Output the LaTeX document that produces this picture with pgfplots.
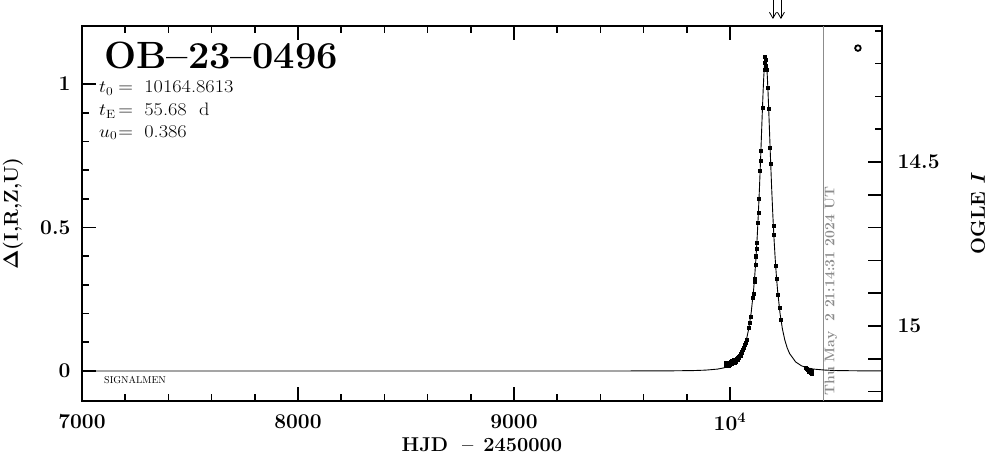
\documentclass[border=0pt]{standalone}
\usepackage{graphicx}
\usepackage{pgfplots}
\pgfplotsset{compat=1.18}
\usetikzlibrary{arrows.meta}
\definecolor{stampgray}{RGB}{140,140,140}
\begin{document}
\begin{tikzpicture}
\begin{axis}[name=ax, width=800pt, height=375pt, scale only axis,
  xmin=7000, xmax=10704, ymin=-0.1045, ymax=1.202,
  axis line style={line width=1.7pt},
  xtick={7000,8000,9000,10000}, xticklabels={7000,8000,9000,10\textsuperscript{4}},
  minor x tick num=4,
  ytick={0,0.5,1}, yticklabels={0,0.5,1}, minor y tick num=4,
  ytick pos=left,
  tick align=inside,
  major tick length=14pt, minor tick length=7pt,
  every tick/.style={line width=1.7pt, black},
  tick label style={font=\bfseries\fontsize{21}{25}\selectfont},
  xticklabel style={anchor=center, yshift=-21pt},
  yticklabel style={anchor=east, xshift=-8pt},
  clip=false]
\draw[color=stampgray, line width=0.9pt] (axis cs:10430.6,-0.1045) -- (axis cs:10430.6,1.202);
\addplot[black, line width=0.9pt] coordinates {
(7000,0) (9500,0.0001) (9719.42,0.0005) (9830.78,0.0015) (9886.46,0.0030) (9942.14,0.0066)
(9969.98,0.0106) (9997.82,0.0178) (10025.66,0.0317) (10053.50,0.0607) (10064.64,0.0805)
(10075.77,0.1080) (10086.91,0.1468) (10098.05,0.2019) (10109.18,0.2804) (10114.75,0.3313)
(10120.32,0.3920) (10125.88,0.4637) (10131.45,0.5476) (10137.02,0.6447) (10142.59,0.7532)
(10148.16,0.8681) (10150.94,0.9245) (10153.72,0.9774) (10156.51,1.0237) (10159.29,1.0601)
(10162.08,1.0836) (10164.86,1.0917) (10167.64,1.0836) (10170.43,1.0601) (10173.21,1.0237)
(10176.00,0.9774) (10178.78,0.9245) (10181.56,0.8681) (10187.13,0.7532) (10192.70,0.6447)
(10198.27,0.5476) (10203.84,0.4637) (10209.40,0.3920) (10214.97,0.3313) (10220.54,0.2804)
(10231.68,0.2019) (10242.81,0.1468) (10253.95,0.1080) (10265.08,0.0805) (10276.22,0.0607)
(10304.06,0.0317) (10331.90,0.0178) (10359.74,0.0106) (10387.58,0.0066) (10443.26,0.0030)
(10498.94,0.0015) (10610.30,0.0005) (10704,0.0002)
};
\addplot[only marks, mark=square*, mark size=1.5pt, black] coordinates {
(9978,0.020) (9982,0.028) (9985,0.018) (9988,0.025) (9990,0.030) (9993,0.020) (9995,0.027)
(9998,0.022) (10000,0.030) (10003,0.025) (10005,0.032) (10008,0.027) (10010,0.035) (10012,0.029)
(10015,0.033) (10018,0.038) (10020,0.030) (10022,0.036) (10025,0.040) (10027,0.034) (10030,0.042)
(10032,0.038) (10035,0.045) (10037,0.040) (10040,0.050) (10042,0.046) (10045,0.055) (10048,0.052)
(10050,0.060) (10053,0.065) (10056,0.068) (10059,0.075) (10062,0.080) (10066,0.090)
(10072.4,0.098) (10075.8,0.108) (10087.5,0.150) (10092.5,0.167) (10096.1,0.189)
(10105.9,0.255) (10108.1,0.270) (10112.5,0.310) (10113.6,0.320) (10118.6,0.372) (10120.3,0.398)
(10120.6,0.400) (10123.1,0.426) (10124.8,0.447) (10129.4,0.517) (10131.7,0.552) (10134.4,0.599)
(10139.8,0.698) (10141.6,0.733) (10143.3,0.767) (10150.7,0.917)
(10159,1.050) (10161,1.075) (10163,1.095) (10165,1.085) (10167,1.065) (10168,1.050)
(10175.4,0.987) (10179.2,0.915) (10185.9,0.778) (10188.8,0.721) (10201.1,0.505) (10203.1,0.475)
(10211.6,0.367) (10216.1,0.320) (10222.2,0.267) (10228.9,0.220) (10235.6,0.178)
(10352,0.012) (10357,0.008) (10362,0.004) (10366,-0.002) (10370,0.006) (10374,-0.006)
(10377,0.000) (10380,-0.010)
};
\addplot[only marks, mark=o, mark size=2.8pt, line width=1.8pt, black] coordinates {(10592.6,1.125)};
\draw[-{Straight Barb[length=6pt,width=7pt]}, line width=0.8pt] ([yshift=26pt]axis cs:10199,1.202) -- ([yshift=7pt]axis cs:10199,1.202);
\draw[-{Straight Barb[length=6pt,width=7pt]}, line width=0.8pt] ([yshift=26pt]axis cs:10236,1.202) -- ([yshift=7pt]axis cs:10236,1.202);
\end{axis}
\begin{axis}[width=800pt, height=375pt, scale only axis,
  xmin=7000, xmax=10704, hide x axis,
  axis y line*=right, y dir=reverse,
  ymin=14.0854, ymax=15.2287,
  axis line style={-, line width=1.7pt},
  ytick={14.5,14.6,14.7,14.8,14.9,15,15.1,15.2},
  yticklabels={14.5,,,,,15,,},
  minor ytick={14.1,14.2,14.3,14.4},
  tick align=inside,
  major tick length=14pt, minor tick length=7pt,
  every tick/.style={line width=1.7pt, black},
  tick label style={font=\bfseries\fontsize{21}{25}\selectfont},
  yticklabel style={anchor=west, xshift=12pt}]
\addplot[draw=none] coordinates {(7000,14.5)};
\end{axis}
\node[rotate=90, font=\bfseries\fontsize{20}{24}\selectfont] at ([xshift=-69pt]ax.west) {$\mathbf{\Delta}$(I,R,Z,U)};
\node[rotate=90, font=\bfseries\fontsize{20}{24}\selectfont] at ([xshift=96pt]ax.east) {OGLE \textit{I}};
\node[font=\bfseries\fontsize{20}{24}\selectfont] at ([yshift=-44pt]ax.south) {HJD\hspace{14pt}--\hspace{10pt}2450000};
\node[anchor=west, inner sep=0pt, font=\bfseries\fontsize{38}{44}\selectfont] at ([shift={(22pt,-29pt)}]ax.north west) {OB--23--0496};
\node[anchor=west, inner sep=0pt, font=\fontsize{18}{21}\selectfont] at ([shift={(17pt,-62pt)}]ax.north west) {\scalebox{1.13}[1]{\makebox[17pt][l]{$t_{\rm 0}$}\makebox[23pt][l]{=}10164.8613}};
\node[anchor=west, inner sep=0pt, font=\fontsize{18}{21}\selectfont] at ([shift={(17pt,-85pt)}]ax.north west) {\scalebox{1.13}[1]{\makebox[17pt][l]{$t_{\rm E}$}\makebox[23pt][l]{=}55.68\hspace{11pt}d}};
\node[anchor=west, inner sep=0pt, font=\fontsize{18}{21}\selectfont] at ([shift={(17pt,-106.5pt)}]ax.north west) {\scalebox{1.13}[1]{\makebox[17pt][l]{$u_{\rm 0}$}\makebox[23pt][l]{=}0.386}};
\node[anchor=west, inner sep=0pt, font=\fontsize{10}{12}\selectfont] at ([shift={(22pt,21pt)}]ax.south west) {SIGNALMEN};
\node[rotate=90, text=stampgray, font=\bfseries\fontsize{14}{16}\selectfont] at ([shift={(749pt,110pt)}]ax.south west) {Thu May\ \ 2 21:14:31 2024 UT};
\pgfresetboundingbox
\path[use as bounding box] ([shift={(-82pt,-58pt)}]ax.south west) rectangle ([shift={(104pt,26pt)}]ax.north east);
\end{tikzpicture}
\end{document}
